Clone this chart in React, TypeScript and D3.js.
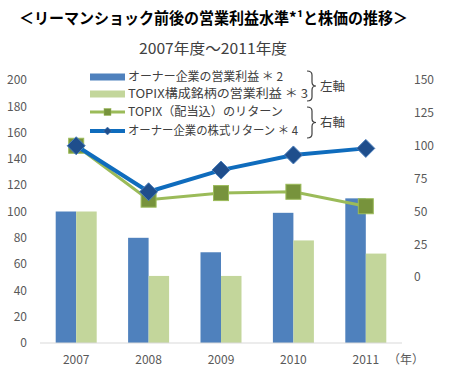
import React from "react";
import * as d3 from "d3";

const years = ["2007", "2008", "2009", "2010", "2011"];
const ownerProfit = [100, 80, 69, 99, 110];
const topixProfit = [100, 51, 51, 78, 68];
const topixReturn = [100, 59, 64, 65, 54];
const ownerReturn = [100, 65, 81.5, 93, 98];
const leftTicks = [0, 20, 40, 60, 80, 100, 120, 140, 160, 180, 200];
const rightTicks = [0, 25, 50, 75, 100, 125, 150];
const legendLabels = [
  "オーナー企業の営業利益 ＊ 2",
  "TOPIX構成銘柄の営業利益 ＊ 3",
  "TOPIX（配当込）のリターン",
  "オーナー企業の株式リターン ＊ 4",
];
const legendWidths = [155, 180, 155, 170];
const titleText = "＜リーマンショック前後の営業利益水準*¹と株価の推移＞";
const subtitleText = "2007年度～2011年度";

const W = 450, H = 376;
const FONT = "'Noto Sans CJK JP', 'Noto Sans', sans-serif";
const BLUE_BAR = "#4F81BD";
const GREEN_BAR = "#C3D69B";
const BLUE_LINE = "#0F6CBD";
const BLUE_MARK = "#1F4E8C";
const GREEN_LINE = "#9BBB59";
const GREEN_MARK = "#77933C";
const TXT = "#595959";

export default function App() {
  const x = d3.scaleBand().domain(years).range([40, 402]).paddingInner(0).paddingOuter(0);
  const yL = d3.scaleLinear().domain([0, 200]).range([343, 80]);
  const yR = d3.scaleLinear().domain([-50, 150]).range([343, 80]);
  const bw = 20.5;
  const cx = (y: string) => (x(y) as number) + x.bandwidth() / 2;

  const line = d3.line<number>().x((_, i) => cx(years[i])).y((d) => yR(d));

  const diamond = (px: number, py: number, r: number) =>
    `M${px},${py - r}L${px + r},${py}L${px},${py + r}L${px - r},${py}Z`;

  const brace = (xx: number, y0: number, y1: number) => {
    const ym = (y0 + y1) / 2;
    const x1 = xx + 5;
    const r = 4;
    return `M${xx},${y0} Q${x1},${y0} ${x1},${y0 + r} L${x1},${ym - r} Q${x1},${ym} ${x1 + 4},${ym} Q${x1},${ym} ${x1},${ym + r} L${x1},${y1 - r} Q${x1},${y1} ${xx},${y1}`;
  };

  const legendY = [77, 94, 112, 131];

  return (
    <svg width={W} height={H} style={{ position: "absolute", left: 0, top: 0, background: "#fff" }} fontFamily={FONT}>
      <text x={19} y={24} fontSize={15.5} fontWeight="bold" fill="#000" textLength={389} lengthAdjust="spacingAndGlyphs">{titleText}</text>
      <text x={139} y={54} fontSize={15} textLength={148} lengthAdjust="spacingAndGlyphs" fill="#404040">{subtitleText}</text>

      {leftTicks.map((t) => (
        <text key={"l" + t} x={27} y={yL(t)} dy="0.35em" textAnchor="end" fontSize={12} fill={TXT}>{t}</text>
      ))}
      {rightTicks.map((t) => (
        <text key={"r" + t} x={414} y={yR(t)} dy="0.35em" textAnchor="start" fontSize={12} fill={TXT}>{t}</text>
      ))}

      {years.map((y, i) => (
        <g key={"b" + y}>
          <rect x={cx(y) - bw} y={yL(ownerProfit[i])} width={bw} height={yL(0) - yL(ownerProfit[i])} fill={BLUE_BAR} />
          <rect x={cx(y)} y={yL(topixProfit[i])} width={bw} height={yL(0) - yL(topixProfit[i])} fill={GREEN_BAR} />
        </g>
      ))}
      <line x1={40} x2={402} y1={yL(0)} y2={yL(0)} stroke="#D9D9D9" strokeWidth={1} />

      {years.map((y) => (
        <text key={"x" + y} x={cx(y)} y={364} textAnchor="middle" fontSize={12} fill={TXT}>{y}</text>
      ))}
      <text x={388} y={364} fontSize={12} fill={TXT}>（年）</text>

      <path d={line(topixReturn) || ""} fill="none" stroke={GREEN_LINE} strokeWidth={3} />
      {topixReturn.map((v, i) => (
        <rect key={"s" + i} x={cx(years[i]) - 7.5} y={yR(v) - 7.5} width={15} height={15} fill={GREEN_MARK} stroke={GREEN_LINE} strokeWidth={1} />
      ))}
      <path d={line(ownerReturn) || ""} fill="none" stroke={BLUE_LINE} strokeWidth={4} />
      {ownerReturn.map((v, i) => (
        <path key={"d" + i} d={diamond(cx(years[i]), yR(v), 9)} fill={BLUE_MARK} stroke="#4A7EBB" strokeWidth={1} />
      ))}

      <rect x={90} y={legendY[0] - 3.5} width={35} height={7} fill={BLUE_BAR} />
      <rect x={90} y={legendY[1] - 3.5} width={35} height={7} fill={GREEN_BAR} />
      <line x1={90} x2={125} y1={legendY[2]} y2={legendY[2]} stroke={GREEN_LINE} strokeWidth={3} />
      <rect x={104} y={legendY[2] - 3.5} width={7} height={7} fill={GREEN_MARK} stroke={GREEN_LINE} strokeWidth={0.5} />
      <line x1={90} x2={125} y1={legendY[3]} y2={legendY[3]} stroke={BLUE_LINE} strokeWidth={4} />
      <path d={diamond(107.5, legendY[3], 4)} fill={BLUE_MARK} stroke="#4A7EBB" strokeWidth={0.5} />
      {legendLabels.map((l, i) => (
        <text key={"lg" + i} x={128} y={legendY[i]} dy="0.36em" fontSize={12} textLength={legendWidths[i]} lengthAdjust="spacingAndGlyphs" fill="#404040">{l}</text>
      ))}
      <path d={brace(307, 71, 101)} fill="none" stroke="#404040" strokeWidth={1.2} />
      <text x={320} y={86} dy="0.36em" fontSize={12.5} fill="#404040">左軸</text>
      <path d={brace(307, 107, 138)} fill="none" stroke="#404040" strokeWidth={1.2} />
      <text x={320} y={122} dy="0.36em" fontSize={12.5} fill="#404040">右軸</text>
    </svg>
  );
}
